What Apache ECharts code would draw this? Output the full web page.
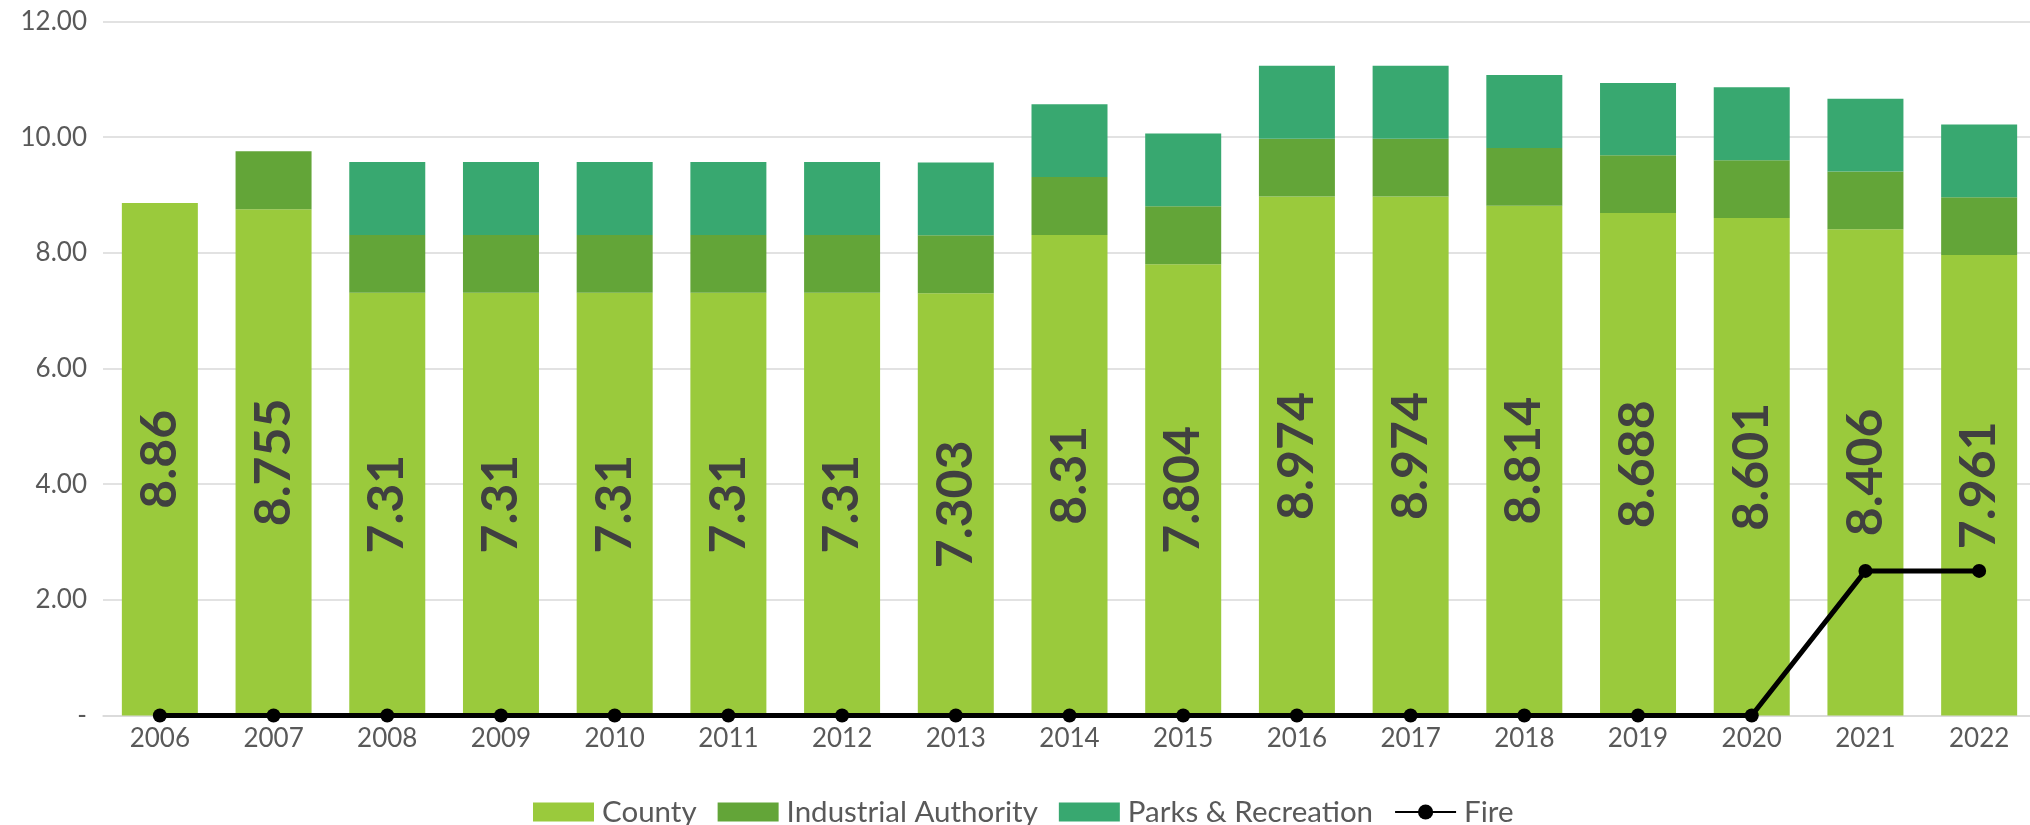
<!DOCTYPE html>
<html>
<head>
<meta charset="utf-8">
<script src="https://cdn.jsdelivr.net/npm/echarts@6/dist/echarts.min.js"></script>
<style>
html,body{margin:0;padding:0;background:#fff;}
#chart{width:2030px;height:825px;}
</style>
</head>
<body>
<div id="chart"></div>
<script>
const years = ['2006','2007','2008','2009','2010','2011','2012','2013','2014','2015','2016','2017','2018','2019','2020','2021','2022'];
const county = [8.86, 8.755, 7.31, 7.31, 7.31, 7.31, 7.31, 7.303, 8.31, 7.804, 8.974, 8.974, 8.814, 8.688, 8.601, 8.406, 7.961];
const industrialAuthority = [0, 1.0, 1.0, 1.0, 1.0, 1.0, 1.0, 1.0, 1.0, 1.0, 1.0, 1.0, 1.0, 1.0, 1.0, 1.0, 1.0];
const parksRecreation = [0, 0, 1.26, 1.26, 1.26, 1.26, 1.26, 1.26, 1.26, 1.26, 1.26, 1.26, 1.26, 1.25, 1.26, 1.26, 1.26];
const fire = [0, 0, 0, 0, 0, 0, 0, 0, 0, 0, 0, 0, 0, 0, 0, 2.5, 2.5];
const yTicks = {min: 0, max: 12, interval: 2};

const chart = echarts.init(document.getElementById('chart'));
const font = 'Lato';
chart.setOption({
  animation: false,
  backgroundColor: '#ffffff',
  textStyle: {fontFamily: font},
  grid: {left: 103, width: 1933, top: 21.5, bottom: 109.5, containLabel: false, outerBoundsMode: 'none'},
  legend: {
    left: 528, top: 792, itemWidth: 61, itemHeight: 19, itemGap: 21,
    textStyle: {fontFamily: font, fontSize: 29.5, color: '#595959', padding: [0,0,0,3]},
    data: [
      {name: 'County', icon: 'rect'},
      {name: 'Industrial Authority', icon: 'rect'},
      {name: 'Parks & Recreation', icon: 'rect'},
      {name: 'Fire'}
    ]
  },
  xAxis: {
    type: 'category', data: years,
    axisLine: {lineStyle: {color: '#d9d9d9', width: 1.5}},
    axisTick: {show: false},
    axisLabel: {fontFamily: font, fontSize: 26, color: '#595959', margin: 10}
  },
  yAxis: {
    type: 'value', min: yTicks.min, max: yTicks.max, interval: yTicks.interval,
    axisLine: {show: false}, axisTick: {show: false},
    splitLine: {lineStyle: {color: '#d9d9d9', width: 1.5}},
    axisLabel: {
      fontFamily: font, fontSize: 26, color: '#595959', margin: 16,
      formatter: v => v === 0 ? '-' : v.toFixed(2)
    }
  },
  series: [
    {
      name: 'County', type: 'bar', stack: 'total', data: county, barWidth: 76,
      itemStyle: {color: '#9aca3c'},
      label: {
        show: true, position: 'inside', rotate: 90,
        fontFamily: font, fontSize: 50, fontWeight: 'bold', color: '#404040',
        formatter: p => String(p.value)
      }
    },
    {name: 'Industrial Authority', type: 'bar', stack: 'total', data: industrialAuthority, barWidth: 76, itemStyle: {color: '#63a538'}},
    {name: 'Parks & Recreation', type: 'bar', stack: 'total', data: parksRecreation, barWidth: 76, itemStyle: {color: '#38a870'}},
    {
      name: 'Fire', type: 'line', data: fire, symbol: 'circle', symbolSize: 14,
      lineStyle: {color: '#000000', width: 5}, itemStyle: {color: '#000000'}, z: 5
    }
  ]
});
</script>
</body>
</html>
